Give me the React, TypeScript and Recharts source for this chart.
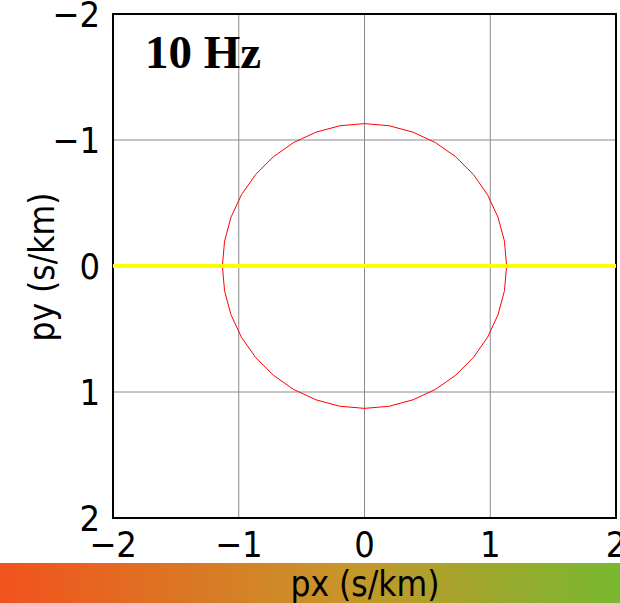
import {
  CartesianGrid,
  ComposedChart,
  ReferenceArea,
  Scatter,
  XAxis,
  YAxis,
} from 'recharts'

// slowness axes, s/km
const AXIS_TICKS = [-2, -1, 0, 1, 2]

// circle (radius about 1.13 s/km), every 10 degrees
const CIRCLE_X = [
  1.13, 1.113, 1.062, 0.979, 0.866, 0.726, 0.565, 0.386, 0.196, 0,
  -0.196, -0.386, -0.565, -0.726, -0.866, -0.979, -1.062, -1.113, -1.13,
  -1.113, -1.062, -0.979, -0.866, -0.726, -0.565, -0.386, -0.196, 0,
  0.196, 0.386, 0.565, 0.726, 0.866, 0.979, 1.062, 1.113, 1.13,
]
const CIRCLE_Y = [
  0, 0.196, 0.386, 0.565, 0.726, 0.866, 0.979, 1.062, 1.113, 1.13,
  1.113, 1.062, 0.979, 0.866, 0.726, 0.565, 0.386, 0.196, 0,
  -0.196, -0.386, -0.565, -0.726, -0.866, -0.979, -1.062, -1.113, -1.13,
  -1.113, -1.062, -0.979, -0.866, -0.726, -0.565, -0.386, -0.196, 0,
]

// yellow line along py = 0
const LINE_X = [-2, 2]
const LINE_Y = [0, 0]

const circle = CIRCLE_X.map((x, i) => ({ x, y: CIRCLE_Y[i] }))
const yellow = LINE_X.map((x, i) => ({ x, y: LINE_Y[i] }))

const FONT = '"Liberation Sans Narrow", "DejaVu Sans Condensed", "Noto Sans CJK JP", sans-serif'

const fmt = (v: number) => String(v).replace('-', '\u2212')

const NoDot = () => null

export default function App() {
  return (
    <div style={{ position: 'absolute', left: 0, top: 0, width: 620, height: 603, background: '#fff', overflow: 'hidden' }}>
      {/* colour bar with the x label */}
      <div
        style={{
          position: 'absolute',
          left: 0,
          top: 563,
          width: 620,
          height: 40,
          background: 'linear-gradient(to right, #f2521d, #c8952a 55%, #78b82f)',
        }}
      >
        <div
          style={{
            position: 'absolute',
            left: 110,
            width: 510,
            top: 1,
            textAlign: 'center',
            fontFamily: FONT,
            fontSize: 35,
            lineHeight: '40px',
            color: '#000',
          }}
        >
          px (s/km)
        </div>
      </div>

      <div style={{ position: 'absolute', left: 0, top: 0 }}>
        <ComposedChart
          width={620}
          height={603}
          margin={{ top: 14, right: 4, bottom: 0, left: 0 }}
        >
          <CartesianGrid stroke="#8a8a8a" strokeWidth={1} />
          <XAxis
            type="number"
            dataKey="x"
            domain={[-2, 2]}
            ticks={AXIS_TICKS}
            allowDataOverflow
            height={85}
            tickLine={false}
            axisLine={false}
            tickMargin={7}
            tickFormatter={fmt}
            tick={{ fontSize: 36, fill: '#000', fontFamily: FONT }}
            interval={0}
          />
          <YAxis
            type="number"
            dataKey="y"
            domain={[-2, 2]}
            ticks={AXIS_TICKS}
            reversed
            allowDataOverflow
            width={113}
            tickLine={false}
            axisLine={false}
            tickMargin={7}
            tickFormatter={fmt}
            tick={{ fontSize: 36, fill: '#000', fontFamily: FONT }}
            interval={0}
          />
          <Scatter
            data={circle}
            line={{ stroke: '#ff0000', strokeWidth: 1 }}
            lineType="joint"
            shape={NoDot}
            isAnimationActive={false}
          />
          <Scatter
            data={yellow}
            line={{ stroke: '#ffff00', strokeWidth: 4 }}
            lineType="joint"
            shape={NoDot}
            isAnimationActive={false}
          />
          <ReferenceArea
            x1={-2}
            x2={2}
            y1={-2}
            y2={2}
            fill="none"
            stroke="#000"
            strokeWidth={2}
            ifOverflow="visible"
          />
        </ComposedChart>
      </div>

      <div
        style={{
          position: 'absolute',
          left: 145,
          top: 29,
          fontFamily: '"Liberation Serif", "Times New Roman", serif',
          fontWeight: 'bold',
          fontSize: 47,
          lineHeight: '46px',
          color: '#000',
          whiteSpace: 'nowrap',
        }}
      >
        10 Hz
      </div>

      <div
        style={{
          position: 'absolute',
          left: 42,
          top: 267,
          transform: 'translate(-50%, -50%) rotate(-90deg)',
          fontFamily: FONT,
          fontSize: 35,
          lineHeight: '40px',
          color: '#000',
          whiteSpace: 'nowrap',
        }}
      >
        py (s/km)
      </div>
    </div>
  )
}
